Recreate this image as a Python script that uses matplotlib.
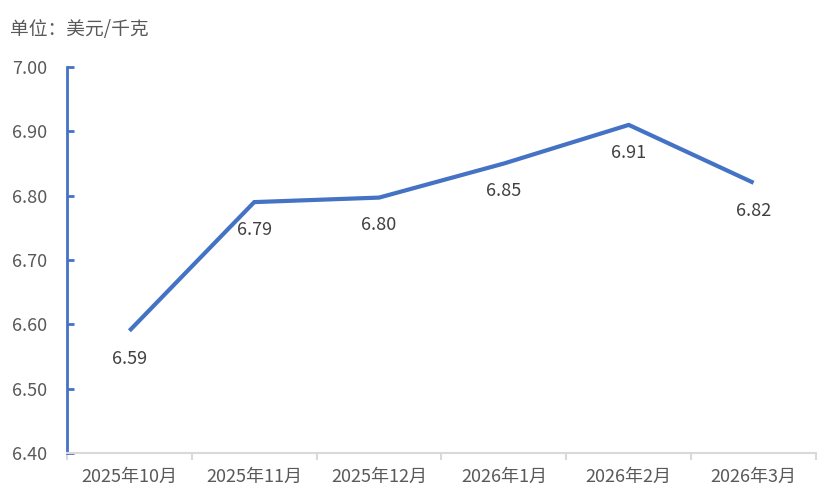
import matplotlib
matplotlib.use("Agg")
import matplotlib.pyplot as plt
import numpy as np

plt.rcParams['font.family'] = ['Noto Sans CJK SC', 'DejaVu Sans']

categories = ["2025年10月", "2025年11月", "2025年12月", "2026年1月", "2026年2月", "2026年3月"]
values = [6.59, 6.79, 6.797, 6.85, 6.91, 6.82]
yticks = [6.40, 6.50, 6.60, 6.70, 6.80, 6.90, 7.00]

blue = "#4472C4"
gray_text = "#595959"

fig = plt.figure(figsize=(8.39, 5.03), dpi=100)
ax = fig.add_axes([67/839, 50/503, (816-67)/839, (453-67)/503])

x = np.arange(len(categories))
ax.plot(x, values, color=blue, lw=3.0, solid_capstyle='butt', solid_joinstyle='miter')

for xi, v in zip(x, values):
    ax.annotate(f"{v:.2f}", (xi, v), xytext=(0, -20), textcoords='offset points',
                ha='center', va='center', fontsize=13, color="#404040")

ax.set_xlim(-0.5, len(categories) - 0.5)
ax.set_ylim(6.40, 7.00)
ax.set_yticks(yticks)
ax.set_yticklabels([f"{t:.2f}" for t in yticks], fontsize=13, color=gray_text)
ax.set_xticks(x)
ax.set_xticklabels(categories, fontsize=13, color=gray_text)
ax.set_xticks(np.arange(-0.5, len(categories), 1.0), minor=True)

ax.tick_params(axis='x', which='major', length=0, pad=11)
ax.tick_params(axis='x', which='minor', length=5, width=1.5, color="#d9d9d9", direction='out')
ax.tick_params(axis='y', which='major', length=5, width=2, color=blue, direction='in', pad=14)

for s in ['top', 'right']:
    ax.spines[s].set_visible(False)
ax.spines['left'].set_color(blue)
ax.spines['left'].set_linewidth(2)
ax.spines['bottom'].set_color("#d9d9d9")
ax.spines['bottom'].set_linewidth(1.5)

fig.text(10/839, 1 - 30/503, "单位：美元/千克", fontsize=13.5, color=gray_text, ha='left', va='center')

fig.savefig("out.png", dpi=100)
